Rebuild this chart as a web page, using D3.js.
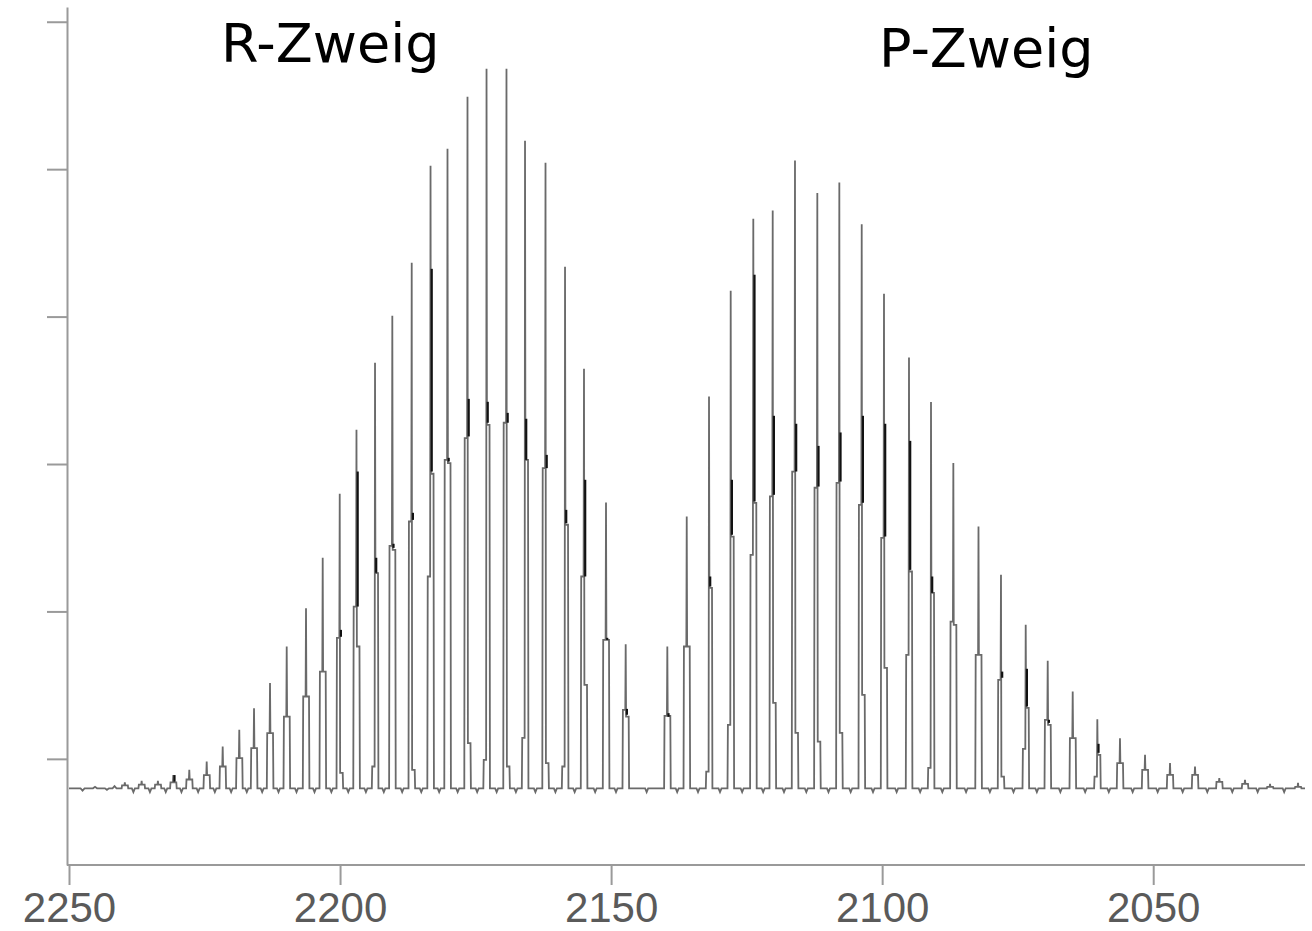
<!DOCTYPE html>
<html>
<head>
<meta charset="utf-8">
<script src="https://cdn.jsdelivr.net/npm/d3@7"></script>
<style>
  html, body { margin: 0; padding: 0; background: #fff; }
  svg { display: block; }
</style>
</head>
<body>
<div id="chart"></div>
<script>
// line positions (cm^-1), R-branch then P-branch
const linePos = [
  2239.7, 2236.6, 2233.6,
  2230.76, 2227.81, 2224.60, 2221.65, 2218.59, 2215.87, 2212.92, 2209.84, 2206.28, 2203.20,
  2200.06, 2196.97, 2193.55, 2190.36, 2186.78, 2183.31, 2180.18, 2176.49, 2172.98, 2169.30,
  2165.88, 2162.10, 2158.50, 2155.00, 2150.94, 2147.31,
  2139.63, 2136.05, 2131.94, 2127.94, 2123.77, 2120.19, 2116.08, 2111.96, 2107.90, 2103.77,
  2099.66, 2095.05, 2090.99, 2086.87, 2082.23, 2078.08, 2073.52, 2069.46, 2064.85, 2060.31,
  2056.13, 2051.51, 2046.90, 2042.29, 2037.81, 2033.07, 2028.45, 2023.29
];
// top of the tall spike
const peakMain = [
  -0.16, -0.15, -0.15,
  -0.11, -0.075, -0.018, 0.083, 0.197, 0.344, 0.514, 0.762, 1.022, 1.364,
  1.798, 2.232, 2.687, 3.005, 3.365, 4.023, 4.138, 4.491, 4.681, 4.681,
  4.193, 4.043, 3.338, 2.646, 1.739, 0.778,
  0.762, 1.644, 2.458, 3.175, 3.664, 3.720, 4.059, 3.838, 3.910, 3.627,
  3.155, 2.723, 2.420, 2.006, 1.576, 1.248, 0.909, 0.665, 0.457, 0.269,
  0.140, 0.027, -0.029, -0.052, -0.131, -0.142, -0.170, -0.163
];
// shoulder level left / right of the spike
const shoulderL = [
  -0.18, -0.175, -0.175,
  -0.16, -0.14, -0.11, -0.052, 0.005, 0.073, 0.174, 0.287, 0.423, 0.592,
  0.821, 1.033, -0.052, 1.445, 1.610, 1.237, 2.028, 2.176, -0.007, 2.280,
  0.142, 1.972, -0.052, 1.237, 0.807, 0.332,
  0.292, 0.762, -0.086, 0.231, 1.384, 1.780, 1.949, 1.839, 1.872, 1.723,
  1.499, 0.706, -0.061, 0.931, 0.706, 0.536, 0.068, 0.265, 0.140, -0.120,
  -0.029, -0.075, -0.109, -0.109, -0.156, -0.170, -0.19, -0.19
];
const shoulderR = [
  -0.18, -0.175, -0.175,
  -0.16, -0.14, -0.11, -0.052, 0.005, 0.073, 0.174, 0.287, 0.423, 0.592,
  -0.095, 0.762, 1.260, 1.418, -0.075, 1.934, 2.006, 0.107, 2.266, -0.052,
  2.028, -0.029, 1.588, 0.502, 0.807, 0.287,
  0.292, 0.762, 1.160, 1.508, 1.737, 0.380, 0.176, 0.117, 0.176, 0.434,
  0.617, 1.271, 1.126, 0.909, 0.706, -0.120, 0.346, 0.231, 0.140, 0.027,
  -0.029, -0.075, -0.109, -0.109, -0.156, -0.170, -0.19, -0.19
];
// dark isotope band (top, bottom); null = none
const bandTop = [
  null, null, null,
  -0.11, null, null, null, null, null, null, null, null, null,
  0.875, 1.949, 1.364, 1.459, 1.669, 3.324, 2.042, 2.442, 2.422, 2.347,
  2.307, 2.062, 1.689, 1.893, 0.821, 0.339,
  0.31, null, 1.237, 1.893, 3.284, 2.327, 2.273, 2.123, 2.214, 2.327,
  2.273, 2.157, 1.237, null, null, 0.592, 0.611, 0.265, null, 0.102,
  null, null, null, null, null, null, null, null
];
const bandBottom = [
  null, null, null,
  -0.155, null, null, null, null, null, null, null, null, null,
  0.828, 1.033, 1.262, 1.431, 1.621, 1.949, 2.017, 2.187, 2.280, 2.280,
  2.028, 1.972, 1.599, 1.237, 0.807, 0.299,
  0.285, null, 1.169, 1.520, 1.746, 1.791, 1.949, 1.847, 1.881, 1.737,
  1.508, 1.282, 1.126, null, null, 0.550, 0.355, 0.244, null, 0.041,
  null, null, null, null, null, null, null, null
];
// small wiggles of the baseline before the R-branch (position, level)
const noisePos = [2247.5, 2245.2, 2243.0, 2241.6];
const noiseLevel = [-0.215, -0.19, -0.21, -0.185];
const baseLevel = -0.2;
const dipLevel = -0.225;

const xTicks = [2250, 2200, 2150, 2100, 2050];
const yTicks = [0, 1, 2, 3, 4, 5];
const branchLabels = [
  {text: 'R-Zweig', x: 221, y: 62},
  {text: 'P-Zweig', x: 879, y: 67}
];

const width = 1312, height = 931;

const svg = d3.select('#chart')
  .append('svg')
  .attr('width', width)
  .attr('height', height);

const x = d3.scaleLinear().domain([2250, 2022]).range([69, 1305]);
const y = d3.scaleLinear().domain([-0.72, 5.1]).range([865, 7]);

// axes
const axisColor = '#9a9a9a';
const gx = svg.append('g')
  .attr('transform', 'translate(0,865)')
  .call(d3.axisBottom(x).tickValues(xTicks).tickSize(20).tickSizeOuter(0).tickPadding(7).tickFormat(d3.format('d')));
gx.select('.domain').attr('d', 'M67,0H1305');

const gy = svg.append('g')
  .attr('transform', 'translate(67,0)')
  .call(d3.axisLeft(y).tickValues(yTicks).tickSize(20).tickSizeOuter(0).tickFormat(''));

svg.selectAll('.domain, .tick line')
  .attr('stroke', axisColor)
  .attr('stroke-width', 2);
gx.selectAll('.tick text')
  .attr('fill', '#5a5a5a')
  .style('font-family', '"Liberation Sans", Arial, sans-serif')
  .style('font-size', '42px');

// build the trace: tube + spike for every line, small dip between lines
const peaks = linePos.map((p, i) => ({
  xs: x(p), main: peakMain[i], shL: shoulderL[i], shR: shoulderR[i],
  bTop: bandTop[i], bBot: bandBottom[i]
})).sort((a, b) => a.xs - b.xs);

const pts = [[69, y(baseLevel)]];
noisePos.forEach((p, i) => {
  pts.push([x(p) - 2, y(baseLevel)], [x(p), y(noiseLevel[i])], [x(p) + 2, y(baseLevel)]);
});
peaks.forEach((pk, i) => {
  if (i > 0) {
    const prev = peaks[i - 1];
    const mid = (prev.xs + 3.5 + pk.xs - 3.2) / 2;
    pts.push([mid - 1.5, y(baseLevel)], [mid, y(dipLevel)], [mid + 1.5, y(baseLevel)]);
  }
  pts.push(
    [pk.xs - 3.2, y(baseLevel)],
    [pk.xs - 2.8, y(pk.shL)],
    [pk.xs - 0.4, y(pk.shL)],
    [pk.xs, y(pk.main)],
    [pk.xs + 0.4, y(pk.shR)],
    [pk.xs + 3.0, y(pk.shR)],
    [pk.xs + 3.4, y(baseLevel)]
  );
});
pts.push([1305, y(baseLevel)]);

svg.append('path')
  .datum(pts)
  .attr('fill', 'none')
  .attr('stroke', '#6a6a6a')
  .attr('stroke-width', 1.8)
  .attr('stroke-linejoin', 'miter')
  .attr('d', d3.line());

svg.append('g')
  .selectAll('line')
  .data(peaks.filter(d => d.bTop !== null))
  .join('line')
  .attr('x1', d => d.xs + 1.2)
  .attr('x2', d => d.xs + 1.2)
  .attr('y1', d => y(d.bBot))
  .attr('y2', d => y(d.bTop))
  .attr('stroke', '#111')
  .attr('stroke-width', 2.2);

// branch labels
svg.append('g')
  .selectAll('text')
  .data(branchLabels)
  .join('text')
  .attr('x', d => d.x)
  .attr('y', d => d.y)
  .attr('fill', '#000')
  .style('font-family', '"DejaVu Sans", Verdana, sans-serif')
  .style('font-size', '54px')
  .text(d => d.text);
</script>
</body>
</html>
